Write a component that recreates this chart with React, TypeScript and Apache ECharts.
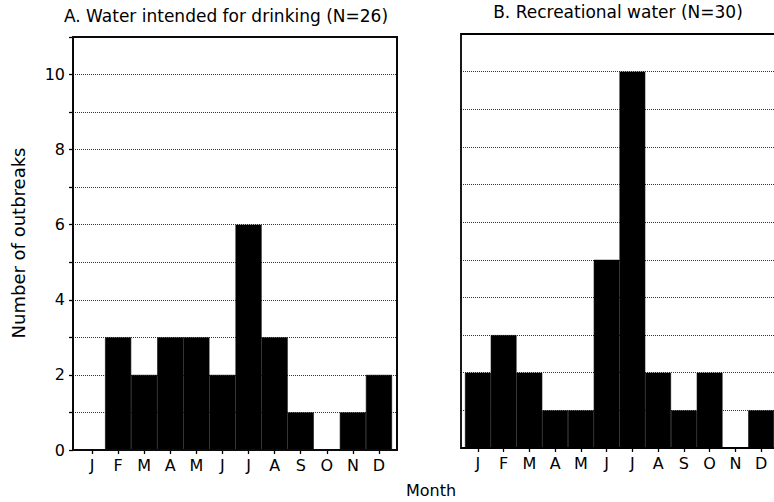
import React, { useEffect, useRef } from "react";
import * as echarts from "echarts";

const months = ["J", "F", "M", "A", "M", "J", "J", "A", "S", "O", "N", "D"];
const drinkingWater = [0, 3, 2, 3, 3, 2, 6, 3, 1, 0, 1, 2];
const recreationalWater = [2, 3, 2, 1, 1, 5, 10, 2, 1, 2, 0, 1];
const titleA = "A. Water intended for drinking (N=26)";
const titleB = "B. Recreational water (N=30)";
const yTitle = "Number of outbreaks";
const xTitle = "Month";
const yMax = 11;

const FONT = "DejaVu Sans, Liberation Sans, Arial, sans-serif";
const W = 774;
const H = 502;

// panel frames
const frameA = { x0: 73, y0: 37, x1: 397, y1: 450 };
const frameB = { x0: 461, y0: 34, x1: 782, y1: 448 };
// bar areas (inset within frames)
const barsA = { x0: 79, x1: 392 };
const barsB = { x0: 465, x1: 778 };

type Frame = { x0: number; y0: number; x1: number; y1: number };

export default function App() {
  const ref = useRef<HTMLDivElement>(null);
  useEffect(() => {
    if (!ref.current) return;
    const chart = echarts.init(ref.current, null, { renderer: "svg" });

    const grid = (x0: number, y0: number, x1: number, y1: number) => ({
      left: x0, top: y0, right: W - x1, bottom: H - y1, show: false, containLabel: false,
    });

    const outerY = (gridIndex: number, labels: boolean) => ({
      type: "value", gridIndex, min: 0, max: yMax, interval: 1,
      axisLine: { show: false },
      axisTick: { show: labels, length: 4, lineStyle: { color: "#000", width: 1.3 } },
      axisLabel: {
        show: labels, margin: 8, color: "#000", fontSize: 16, fontFamily: FONT,
        formatter: (v: number) => (v % 2 === 0 && v <= 10 ? String(v) : ""),
      },
      splitLine: { show: true, lineStyle: { color: "#333", width: 1, type: "dotted" } },
    });
    const hiddenX = (gridIndex: number) => ({ type: "value", gridIndex, min: 0, max: 1, show: false });
    const innerY = (gridIndex: number) => ({ type: "value", gridIndex, min: 0, max: yMax, show: false });
    const catX = (gridIndex: number) => ({
      type: "category", gridIndex, data: months, boundaryGap: true,
      axisLine: { show: false },
      axisTick: { show: true, alignWithLabel: true, length: 4, lineStyle: { color: "#000", width: 1.3 } },
      axisLabel: { color: "#000", fontSize: 16, fontFamily: FONT, margin: 7, interval: 0 },
      splitLine: { show: false },
    });

    const frameRect = (f: Frame) => ({
      type: "rect", z: 50, silent: true,
      shape: { x: f.x0, y: f.y0, width: f.x1 - f.x0, height: f.y1 - f.y0 },
      style: { fill: "none", stroke: "rgb(0,0,0)", lineWidth: 1.8 },
    });
    const framePoly = (f: Frame) => ({
      type: "polyline", z: 51, silent: true,
      shape: { points: [[f.x0, f.y0], [f.x1, f.y0], [f.x1, f.y1], [f.x0, f.y1], [f.x0, f.y0]] },
      style: { fill: null, stroke: "#050505", lineWidth: 1.8 },
    });
    const frameLines = (f: Frame) => [
      [f.x0, f.y0, f.x1, f.y0],
      [f.x1, f.y0, f.x1, f.y1],
      [f.x1, f.y1, f.x0, f.y1],
      [f.x0, f.y1, f.x0, f.y0],
    ].map(([x1, y1, x2, y2]) => ({
      type: "line", z: 52, silent: true,
      shape: { x1, y1, x2, y2 },
      style: { stroke: "#0a0a0a", lineWidth: 1.8 },
    }));

    const barSeries = (xi: number, data: number[]) => ({
      type: "bar", xAxisIndex: xi, yAxisIndex: xi, data,
      barCategoryGap: "0%", clip: false,
      itemStyle: { color: "#000", borderColor: "#000", borderWidth: 0.6 },
    });

    chart.setOption({
      animation: false,
      backgroundColor: "#fff",
      grid: [
        grid(frameA.x0, frameA.y0, frameA.x1, frameA.y1),
        grid(barsA.x0, frameA.y0, barsA.x1, frameA.y1),
        grid(frameB.x0, frameB.y0, frameB.x1, frameB.y1),
        grid(barsB.x0, frameB.y0, barsB.x1, frameB.y1),
      ],
      xAxis: [hiddenX(0), catX(1), hiddenX(2), catX(3)],
      yAxis: [outerY(0, true), innerY(1), outerY(2, false), innerY(3)],
      series: [barSeries(1, drinkingWater), barSeries(3, recreationalWater)],
      graphic: [
        {
          type: "text", x: 226, y: 16,
          style: { text: titleA, fill: "#000", font: `17px ${FONT}`, textAlign: "center", textVerticalAlign: "middle" },
        },
        {
          type: "text", x: 618, y: 12,
          style: { text: titleB, fill: "#000", font: `17px ${FONT}`, textAlign: "center", textVerticalAlign: "middle" },
        },
        {
          type: "text", x: 18, y: 243, rotation: Math.PI / 2,
          style: { text: yTitle, fill: "#000", font: `18px ${FONT}`, textAlign: "center", textVerticalAlign: "middle" },
        },
        {
          type: "text", x: 431, y: 490,
          style: { text: xTitle, fill: "#000", font: `16px ${FONT}`, textAlign: "center", textVerticalAlign: "middle" },
        },
        frameRect(frameA),
        framePoly(frameA),
        ...frameLines(frameA),
        frameRect(frameB),
      ],
    });
    return () => chart.dispose();
  }, []);

  return (
    <div
      ref={ref}
      style={{ position: "absolute", left: 0, top: 0, width: W, height: H, overflow: "hidden" }}
    />
  );
}
